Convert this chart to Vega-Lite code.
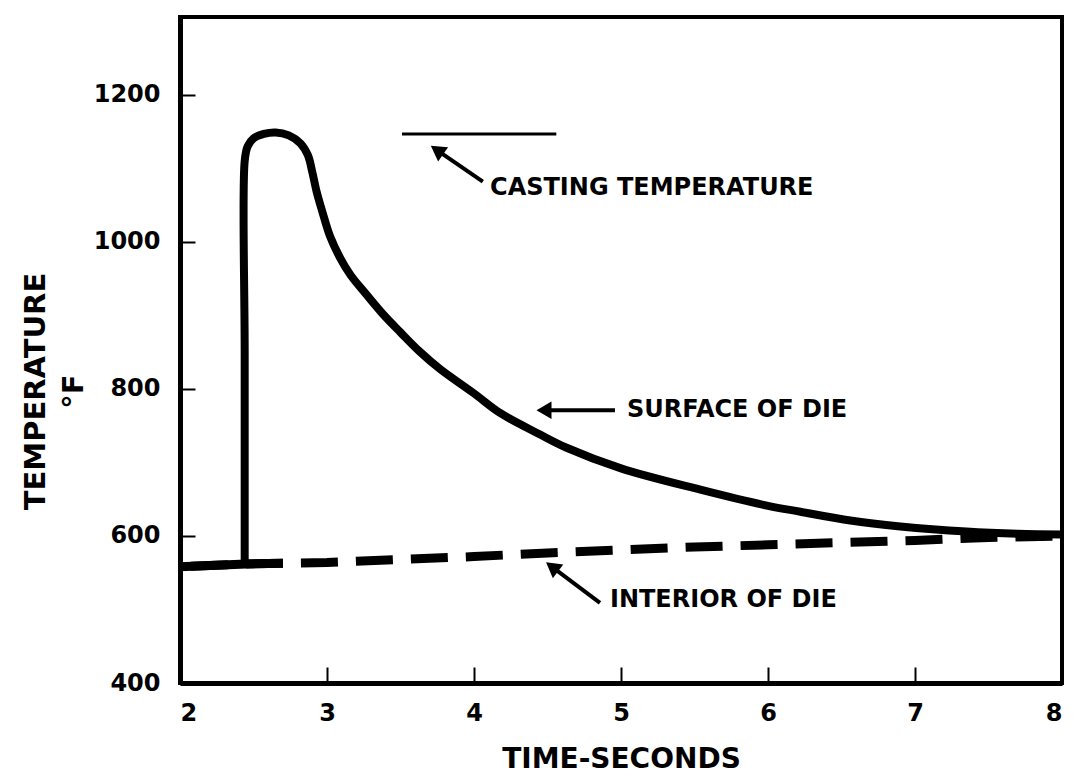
{
  "$schema": "https://vega.github.io/schema/vega-lite/v6.json",
  "width": 882,
  "height": 666,
  "autosize": "none",
  "padding": {"left": 180, "top": 17, "right": 14, "bottom": 91},
  "background": "white",
  "config": {
    "view": {"stroke": "black", "strokeWidth": 4},
    "axis": {
      "grid": false,
      "domainColor": "black",
      "domainWidth": 5,
      "tickColor": "black",
      "tickWidth": 2,
      "labelFont": "DejaVu Sans",
      "labelFontWeight": "bold",
      "labelFontSize": 24,
      "labelColor": "black",
      "titleFont": "DejaVu Sans",
      "titleFontWeight": "bold",
      "titleColor": "black"
    }
  },
  "resolve": {"axis": {"x": "independent", "y": "independent"}},
  "datasets": {
    "surface": [
      {"t": 2.44, "temp": 563},
      {"t": 2.44, "temp": 850},
      {"t": 2.44, "temp": 1110},
      {"t": 2.46, "temp": 1130},
      {"t": 2.5, "temp": 1141},
      {"t": 2.57, "temp": 1147},
      {"t": 2.65, "temp": 1149},
      {"t": 2.74, "temp": 1145},
      {"t": 2.82, "temp": 1134},
      {"t": 2.87, "temp": 1118},
      {"t": 2.9, "temp": 1095},
      {"t": 2.93, "temp": 1068},
      {"t": 2.97, "temp": 1040},
      {"t": 3.02, "temp": 1008},
      {"t": 3.09, "temp": 978},
      {"t": 3.16, "temp": 955},
      {"t": 3.27, "temp": 928},
      {"t": 3.38, "temp": 902},
      {"t": 3.5, "temp": 877},
      {"t": 3.63, "temp": 851},
      {"t": 3.77, "temp": 827},
      {"t": 4.0, "temp": 794},
      {"t": 4.18, "temp": 767},
      {"t": 4.45, "temp": 738},
      {"t": 4.63, "temp": 720},
      {"t": 5.0, "temp": 692},
      {"t": 5.54, "temp": 663},
      {"t": 6.0, "temp": 641},
      {"t": 6.22, "temp": 633},
      {"t": 6.56, "temp": 621},
      {"t": 6.9, "temp": 613},
      {"t": 7.35, "temp": 606},
      {"t": 7.7, "temp": 603},
      {"t": 8.0, "temp": 602}
    ],
    "interior": [
      {"t": 2.0, "temp": 558},
      {"t": 2.45, "temp": 562},
      {"t": 2.7, "temp": 563},
      {"t": 3.0, "temp": 564},
      {"t": 3.5, "temp": 568},
      {"t": 4.0, "temp": 572},
      {"t": 4.5, "temp": 577},
      {"t": 5.0, "temp": 581},
      {"t": 5.5, "temp": 585},
      {"t": 6.0, "temp": 588},
      {"t": 6.5, "temp": 591},
      {"t": 7.0, "temp": 594},
      {"t": 7.5, "temp": 598},
      {"t": 8.0, "temp": 600}
    ],
    "casting": [
      {"t": 3.51, "t2": 4.56, "temp": 1147}
    ],
    "arrows": [
      {"name": "casting", "t": 4.06, "temp": 1082, "t2": 3.748, "temp2": 1125},
      {"name": "surface", "t": 4.959, "temp": 771, "t2": 4.476, "temp2": 771},
      {"name": "interior", "t": 4.857, "temp": 509, "t2": 4.531, "temp2": 558}
    ],
    "labels": [
      {"text": "CASTING TEMPERATURE", "t": 4.109, "temp": 1073},
      {"text": "SURFACE OF DIE", "t": 5.041, "temp": 771},
      {"text": "INTERIOR OF DIE", "t": 4.925, "temp": 513}
    ]
  },
  "layer": [
    {
      "data": {"name": "surface"},
      "mark": {"type": "line", "color": "black", "strokeWidth": 8, "strokeJoin": "round", "strokeCap": "butt", "interpolate": "catmull-rom"},
      "encoding": {
        "x": {
          "field": "t", "type": "quantitative",
          "scale": {"domain": [2, 8], "nice": false, "zero": false},
          "axis": {
            "values": [2, 3, 4, 5, 6, 7, 8],
            "format": "d",
            "ticks": false,
            "labelPadding": 18,
            "title": "TIME-SECONDS",
            "titleFontSize": 28,
            "titlePadding": 20
          },
          "title": "TIME-SECONDS"
        },
        "y": {
          "field": "temp", "type": "quantitative",
          "scale": {"domain": [400, 1306], "nice": false, "zero": false},
          "axis": {
            "values": [400, 600, 800, 1000, 1200],
            "format": "d",
            "ticks": false,
            "labelPadding": 20,
            "title": ["TEMPERATURE", "°F"],
            "titleFontSize": 29,
            "titleLineHeight": 38,
            "titleAngle": -90,
            "titleAlign": "center",
            "titleBaseline": "top",
            "titleX": -159,
            "titleY": 374
          },
          "title": ["TEMPERATURE", "°F"]
        }
      }
    },
    {
      "data": {"name": "interior"},
      "transform": [{"filter": "datum.t <= 2.7"}],
      "mark": {"type": "line", "color": "black", "strokeWidth": 9},
      "encoding": {
        "x": {
          "field": "t", "type": "quantitative",
          "axis": {"orient": "top", "offset": -666, "values": [3, 4, 5, 6, 7], "labels": false, "domain": false, "ticks": true, "tickSize": 16, "title": null}
        },
        "y": {
          "field": "temp", "type": "quantitative",
          "axis": {"orient": "right", "offset": -882, "values": [600, 800, 1000, 1200], "labels": false, "domain": false, "ticks": true, "tickSize": 15, "title": null}
        }
      }
    },
    {
      "data": {"name": "interior"},
      "mark": {"type": "line", "color": "black", "strokeWidth": 9, "strokeDash": [37, 18], "strokeDashOffset": 44},
      "encoding": {
        "x": {"field": "t", "type": "quantitative", "axis": null},
        "y": {"field": "temp", "type": "quantitative", "axis": null}
      }
    },
    {
      "data": {"name": "casting"},
      "mark": {"type": "rule", "color": "black", "strokeWidth": 3},
      "encoding": {
        "x": {"field": "t", "type": "quantitative", "axis": null},
        "x2": {"field": "t2"},
        "y": {"field": "temp", "type": "quantitative", "axis": null}
      }
    },
    {
      "data": {"name": "arrows"},
      "mark": {"type": "rule", "color": "black", "strokeWidth": 4},
      "encoding": {
        "x": {"field": "t", "type": "quantitative", "axis": null},
        "x2": {"field": "t2"},
        "y": {"field": "temp", "type": "quantitative", "axis": null},
        "y2": {"field": "temp2"}
      }
    },
    {
      "data": {"name": "arrows"},
      "transform": [{"filter": "datum.name == 'casting'"}],
      "mark": {"type": "point", "shape": "triangle-up", "filled": true, "color": "black", "opacity": 1, "size": 300, "angle": 305},
      "encoding": {
        "x": {"field": "t2", "type": "quantitative", "axis": null},
        "y": {"field": "temp2", "type": "quantitative", "axis": null}
      }
    },
    {
      "data": {"name": "arrows"},
      "transform": [{"filter": "datum.name == 'surface'"}],
      "mark": {"type": "point", "shape": "triangle-up", "filled": true, "color": "black", "opacity": 1, "size": 300, "angle": 270},
      "encoding": {
        "x": {"field": "t2", "type": "quantitative", "axis": null},
        "y": {"field": "temp2", "type": "quantitative", "axis": null}
      }
    },
    {
      "data": {"name": "arrows"},
      "transform": [{"filter": "datum.name == 'interior'"}],
      "mark": {"type": "point", "shape": "triangle-up", "filled": true, "color": "black", "opacity": 1, "size": 300, "angle": 307},
      "encoding": {
        "x": {"field": "t2", "type": "quantitative", "axis": null},
        "y": {"field": "temp2", "type": "quantitative", "axis": null}
      }
    },
    {
      "data": {"name": "labels"},
      "mark": {"type": "text", "font": "DejaVu Sans", "fontWeight": "bold", "fontSize": 24, "align": "left", "baseline": "middle", "color": "black"},
      "encoding": {
        "x": {"field": "t", "type": "quantitative", "axis": null},
        "y": {"field": "temp", "type": "quantitative", "axis": null},
        "text": {"field": "text"}
      }
    }
  ]
}
